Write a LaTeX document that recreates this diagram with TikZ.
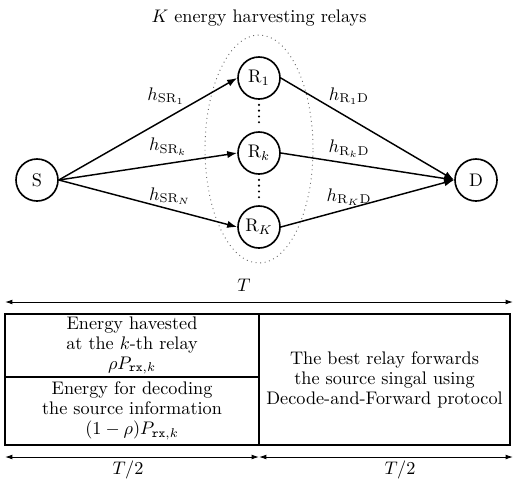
\documentclass[tikz,border=0pt]{standalone}
\usepackage{amsmath}
\usetikzlibrary{arrows.meta,shapes.geometric,calc}
\begin{document}
\begin{tikzpicture}[x=0.019305cm,y=-0.019305cm,
  nd/.style={circle,draw,line width=0.9pt,minimum size=42*0.019305cm,inner sep=0pt},
  link/.style={line width=0.8pt,-{Latex[length=5.5pt,width=4pt]}},
  lbl/.style={inner sep=1pt},
  vdots/.style={line width=1.3pt,line cap=round,dash pattern=on 0pt off 3.2pt},
  cell/.style={draw,line width=1.1pt,align=center,inner sep=0pt,
    execute at begin node={\setlength{\baselineskip}{11pt}}},
  dim/.style={line width=0.5pt,{Latex[length=4pt,width=2.6pt]}-{Latex[length=4pt,width=2.6pt]}}]
\useasboundingbox (0,0) rectangle (518,484);
% relays group
\node[draw,dotted,line width=0.5pt,gray!80!black,ellipse,minimum width=108*0.019305cm,minimum height=228*0.019305cm] (grp) at (259,149) {};
\node (title) at (259,18) {$K$ energy harvesting relays};
\node[nd] (S) at (37,180) {S};
\node[nd] (R1) at (259,78) {R$_1$};
\node[nd] (Rk) at (259,153) {R$_k$};
\node[nd] (RK) at (259,227) {R$_K$};
\node[nd] (D) at (476,180) {D};
\draw[vdots] ($(R1.south)+(0,5)$) -- ($(Rk.north)+(0,-5)$);
\draw[vdots] ($(Rk.south)+(0,5)$) -- ($(RK.north)+(0,-5)$);
\draw[link] (S.east) -- (R1.west);
\draw[link] (S.east) -- (Rk.west);
\draw[link] (S.east) -- (RK.west);
\draw[link] (R1.east) -- (D.west);
\draw[link] (Rk.east) -- (D.west);
\draw[link] (RK.east) -- (D.west);
\node[lbl] (l1) at (166,96) {$h_{\mathrm{SR}_1}$};
\node[lbl] (l2) at (168,147) {$h_{\mathrm{SR}_k}$};
\node[lbl] (l3) at (170,196) {$h_{\mathrm{SR}_N}$};
\node[lbl] (l4) at (349,96) {$h_{\mathrm{R}_1\mathrm{D}}$};
\node[lbl] (l5) at (349,149) {$h_{\mathrm{R}_k\mathrm{D}}$};
\node[lbl] (l6) at (349,197) {$h_{\mathrm{R}_K\mathrm{D}}$};
% time frame
\coordinate (a0) at (5,302);
\coordinate (a1) at (513,302);
\draw[dim] (a0) -- (a1);
\node (T) at (244,285) {$T$};
\node[cell,minimum width=254*0.019305cm,minimum height=63*0.019305cm] (c1) at (132,345.5) {Energy havested\\at the $k$-th relay\\$\rho P_{\mathtt{rx},k}$};
\node[cell,minimum width=254*0.019305cm,minimum height=68*0.019305cm] (c2) at (132,411) {Energy for decoding\\the source information\\$(1-\rho)P_{\mathtt{rx},k}$};
\node[cell,minimum width=251*0.019305cm,minimum height=131*0.019305cm] (c3) at (384.5,379.5) {The best relay forwards\\the source singal using\\Decode-and-Forward protocol};
\coordinate (b0) at (5,457);
\coordinate (b1) at (259,457);
\coordinate (b2) at (513,457);
\draw[dim] (b0) -- (b1);
\draw[dim] (b1) -- (b2);
\node (h1) at (128,470) {$T/2$};
\node (h2) at (400,470) {$T/2$};
\end{tikzpicture}
\end{document}
